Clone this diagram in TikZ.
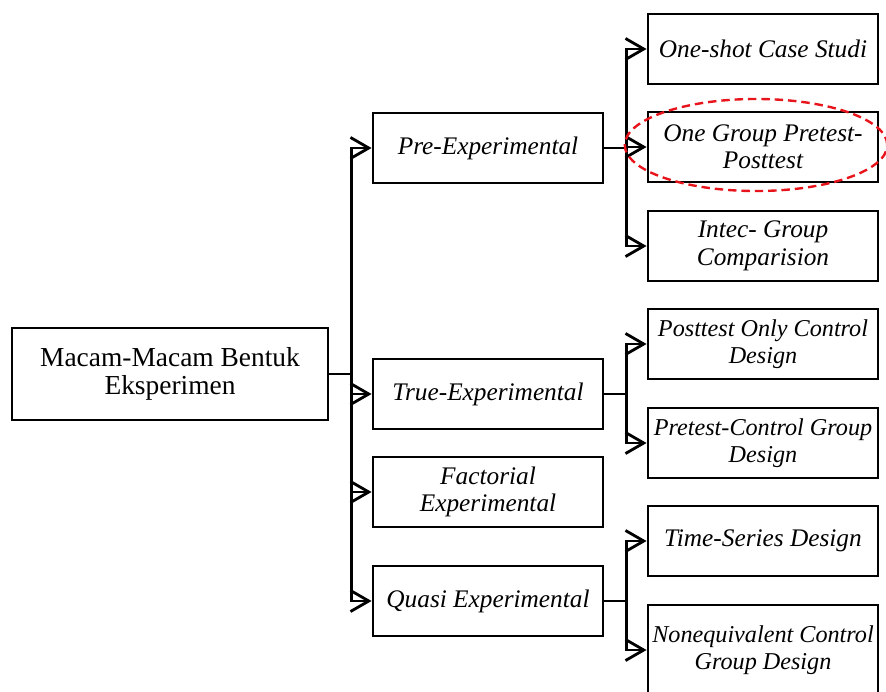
\documentclass[tikz,border=0pt]{standalone}
\usepackage{fontspec}
\setmainfont{Liberation Serif}
\usepackage{tikz}
\usetikzlibrary{arrows.meta,calc}
\definecolor{hilite}{HTML}{E8141B}

\begin{document}
\begin{tikzpicture}[x=0.025cm,y=-0.025cm,
  box/.style={draw,line width=2pt,minimum width=5.75cm,minimum height=1.75cm,align=center,inner sep=1pt,font=\fontsize{18}{19.5}\selectfont\itshape},
  tight/.style={box,font=\fontsize{17.2}{19.5}\selectfont\itshape},
  link/.style={line width=2pt},
  arr/.style={link,-{Straight Barb[length=13pt,width=15pt]}},
  focus/.style={draw=hilite,line width=1.7pt,dash pattern=on 6pt off 3.5pt}]
  \useasboundingbox (0,0) rectangle (886,691);
  \node[box,minimum width=7.9cm,minimum height=2.3cm,font=\fontsize{19.5}{20}\selectfont] (root) at (170,374) {Macam-Macam Bentuk\\Eksperimen};
  \node[box] (pre) at (488,148) {Pre-Experimental};
  \node[box] (true) at (488,394) {True-Experimental};
  \node[box] (fact) at (488,492) {Factorial\\Experimental};
  \node[box] (quasi) at (488,601) {Quasi Experimental};
  \node[box] (oneshot) at (763,49) {One-shot Case Studi};
  \node[box] (onegroup) at (763,147) {One Group Pretest-\\Posttest};
  \node[box] (intec) at (763,246) {Intec- Group\\Comparision};
  \node[tight] (postonly) at (763,344) {Posttest Only Control\\Design};
  \node[tight] (precontrol) at (763,443) {Pretest-Control Group\\Design};
  \node[box] (series) at (763,541) {Time-Series Design};
  \node[tight,minimum height=2.25cm] (noneq) at (763,650) {Nonequivalent Control\\Group Design};
  \draw[link] (root.east) -- ++(22,0) coordinate (j0);
  \foreach \t in {pre,true,fact,quasi}
    \draw[arr] (j0) |- (\t);
  \draw[link] (pre.east) -- ++(22,0) coordinate (j1);
  \foreach \t in {oneshot,onegroup,intec}
    \draw[arr] (j1) |- (\t);
  \draw[link] (true.east) -- ++(22,0) coordinate (j2);
  \foreach \t in {postonly,precontrol}
    \draw[arr] (j2) |- (\t);
  \draw[link] (quasi.east) -- ++(22,0) coordinate (j3);
  \foreach \t in {series,noneq}
    \draw[arr] (j3) |- (\t);
  \draw[focus] ($(onegroup.center)+(-7,-2)$) ellipse [x radius=3.28cm,y radius=1.15cm];
\end{tikzpicture}
\end{document}
